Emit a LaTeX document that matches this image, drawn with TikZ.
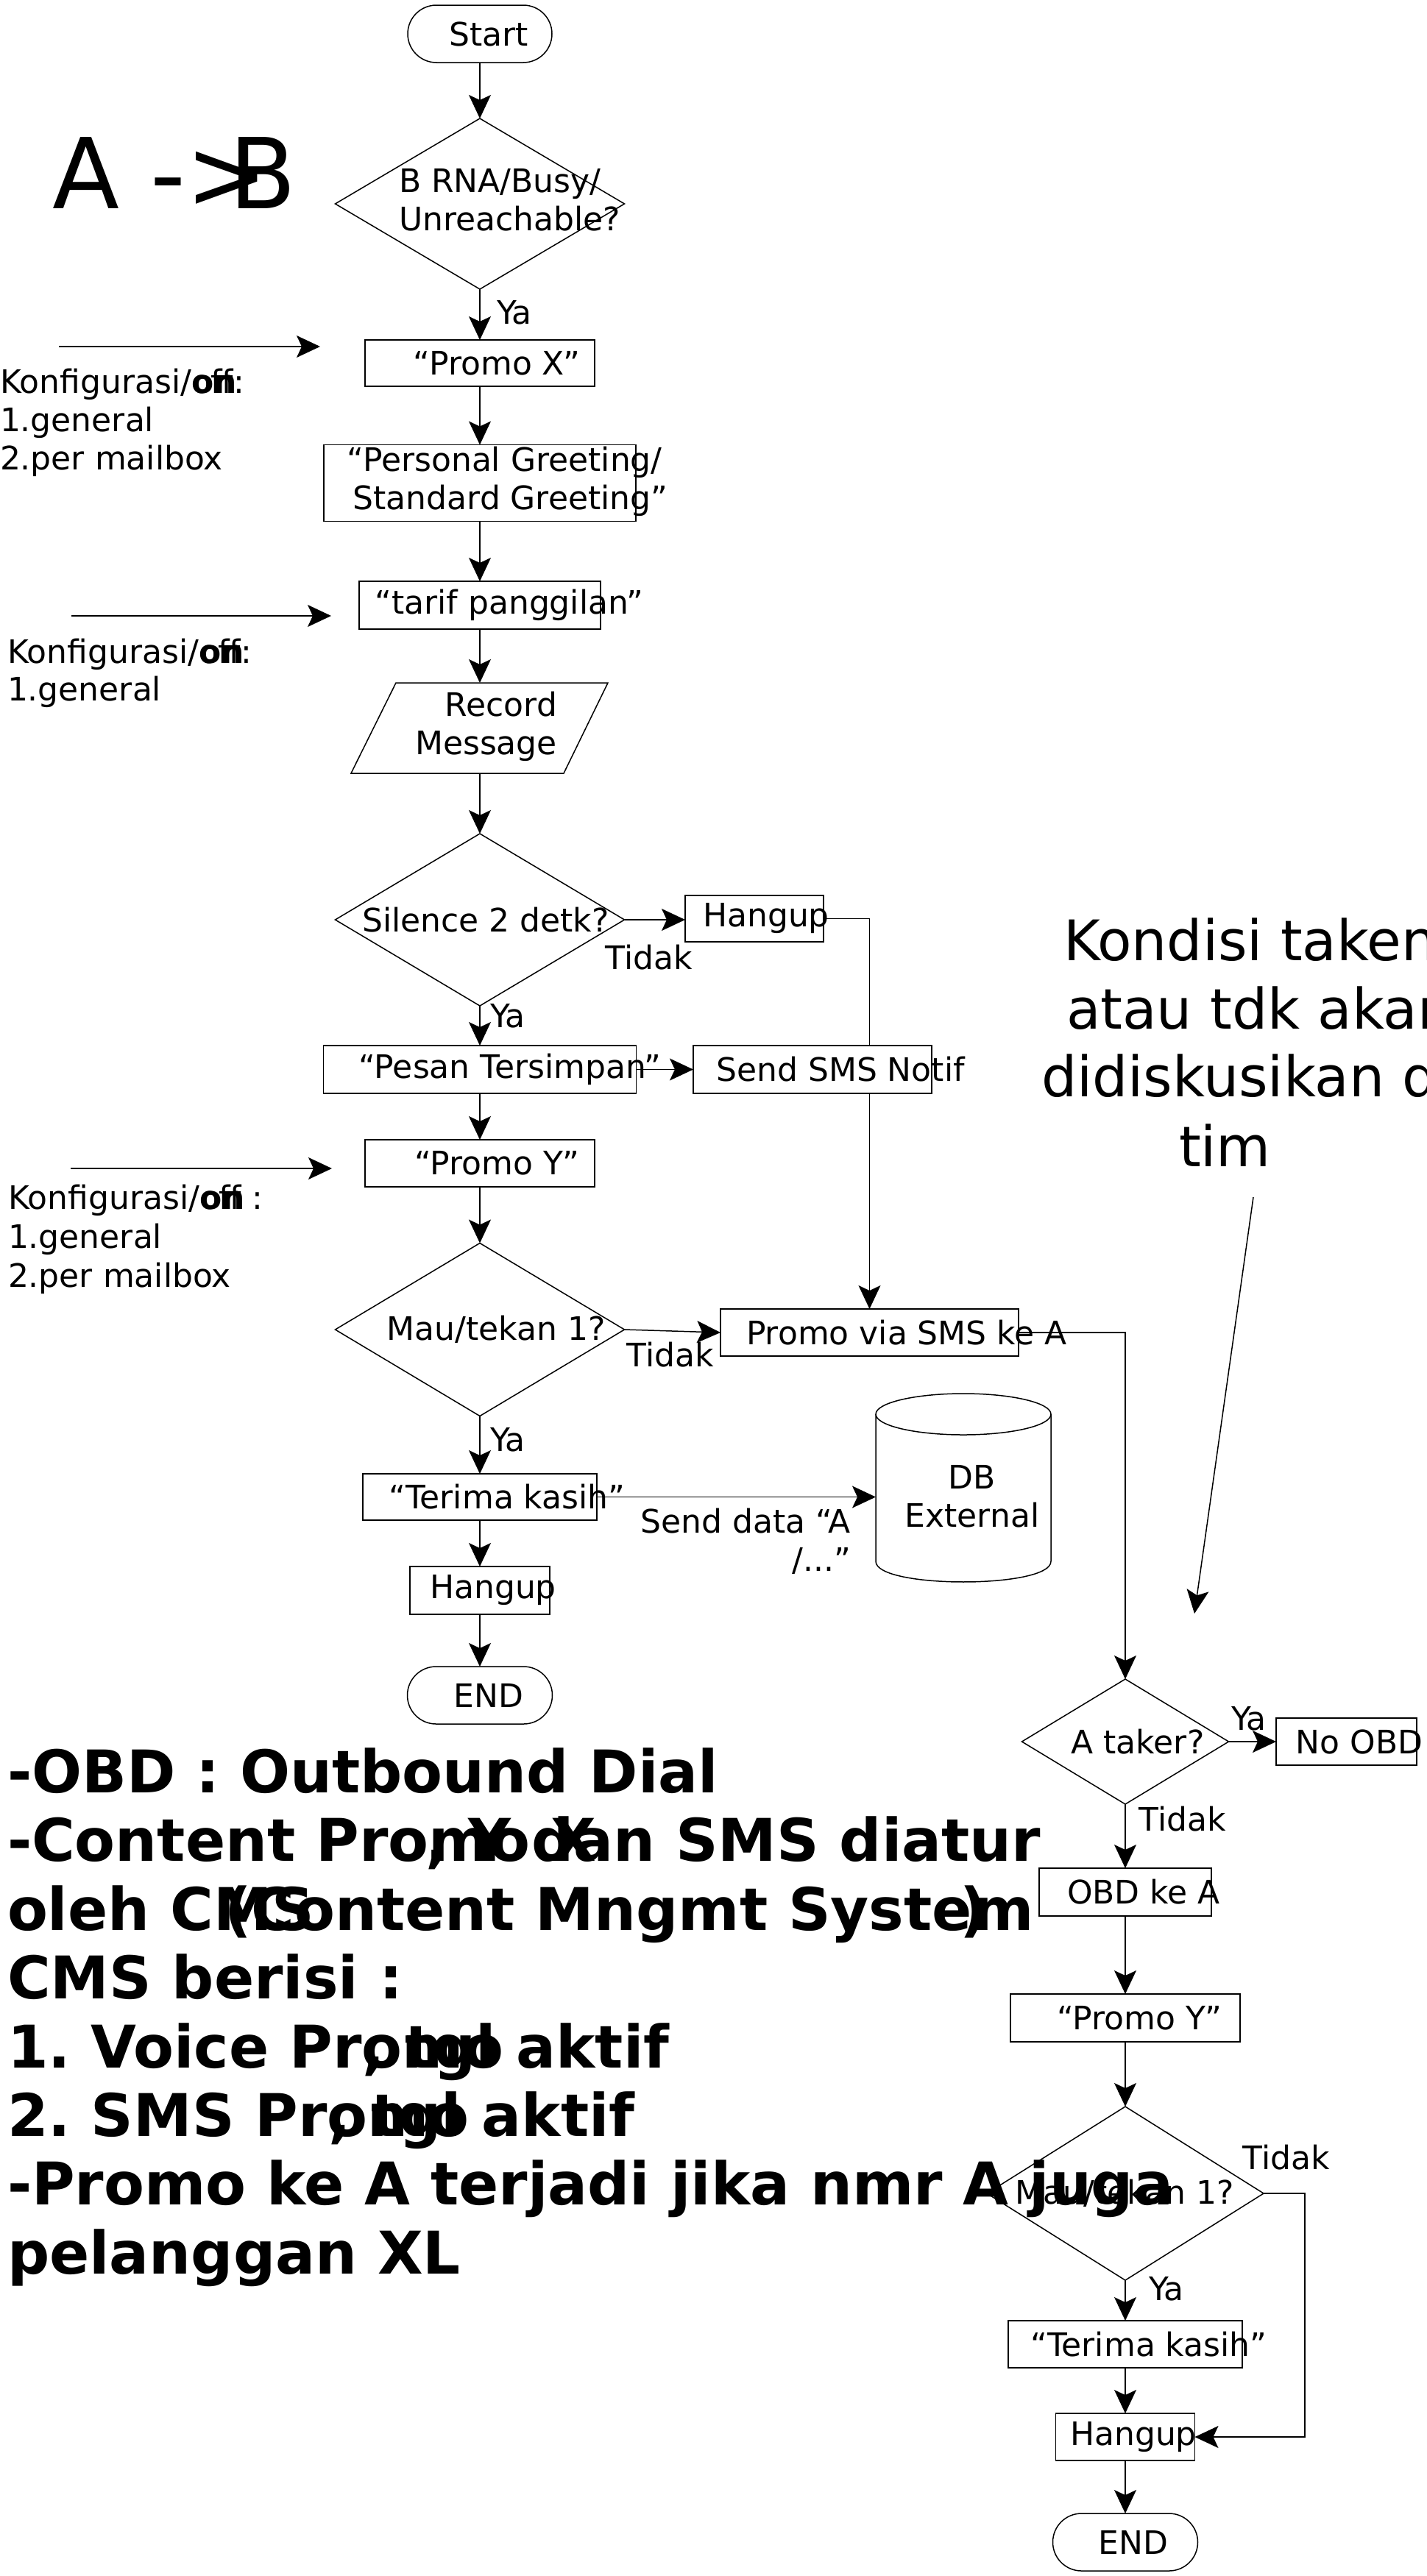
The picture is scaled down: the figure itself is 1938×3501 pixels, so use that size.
\documentclass[tikz,border=0pt]{standalone}
\usepackage{fontspec}
\setmainfont{DejaVu Sans}
\usetikzlibrary{arrows.meta,shapes.geometric}
\pgfdeclarelayer{bg}
\pgfsetlayers{bg,main}
% text shifted right by #1/2 pt and raised by #2 pt, without changing the node size
\newcommand\bt[3]{\makebox[0pt]{\hspace*{#1pt}\raisebox{#2pt}[\height][\depth]{#3}}}
\frenchspacing
\begin{document}
\begin{tikzpicture}[x=1pt,y=-1pt,font=\fontsize{44}{52}\selectfont,
  ln/.style={line width=1.5pt},
  arr/.style={ln,-{Stealth[length=32pt,width=30pt,inset=7pt]}},
  box/.style={draw,ln,fill=white,rectangle,inner sep=0pt,outer sep=0pt},
  term/.style={box,rounded corners=39pt},
  dec/.style={draw,ln,fill=white,diamond,inner sep=0pt,outer sep=0pt},
  lab/.style={inner sep=0pt,outer sep=0pt},
  txt/.style={inner sep=0pt,outer sep=0pt,anchor=base west},
  bnote/.style={txt,font=\fontsize{80}{93}\selectfont\bfseries},
  big/.style={txt,font=\fontsize{76}{93}\selectfont}]
\useasboundingbox (0,0) rectangle (1938,3501);

% ---------- main column ----------
\node[term,minimum width=196pt,minimum height=78pt] (start) at (652,46) {\bt{24}{0}{Start}};
\node[dec,minimum width=393pt,minimum height=232pt] (d1) at (652,277)
  {\bt{81}{0}{\begin{tabular}{@{}l@{}}B RNA/Busy/\\Unreachable?\end{tabular}}};
\node[box,minimum width=312pt,minimum height=63pt] (promoX) at (652,493.5) {\bt{46}{0}{“Promo X”}};
\node[box,minimum width=424pt,minimum height=103pt] (pg) at (652,656.5)
  {\bt{75}{0}{\begin{tabular}{@{}l@{}}“Personal Greeting/\\\hspace*{8pt}Standard Greeting”\end{tabular}}};
\node[box,minimum width=328pt,minimum height=65pt] (tarif) at (652,822.5) {\bt{80}{0}{“tarif panggilan”}};
\draw[ln] (538,928) -- (826,928) -- (766,1051) -- (477,1051) -- cycle;
\node[lab,minimum width=288pt,minimum height=123pt] (rec) at (652,989.5)
  {\bt{17}{0}{\begin{tabular}{@{}r@{}}Record\\Message\end{tabular}}};
\node[dec,minimum width=393pt,minimum height=234pt] (d2) at (652,1250) {\bt{16}{0}{Silence 2 detk?}};
\node[box,minimum width=188pt,minimum height=63pt] (hang1) at (1025,1248.5) {\bt{32}{0}{Hangup}};
\node[box,minimum width=425pt,minimum height=65pt] (pesan) at (652,1453.5) {\bt{82}{0}{“Pesan Tersimpan”}};
\node[box,minimum width=324pt,minimum height=65pt] (notif) at (1104,1453.5) {\bt{76}{0}{Send SMS Notif}};
\node[box,minimum width=312pt,minimum height=64pt] (promoY) at (652,1581) {\bt{46}{0}{“Promo Y”}};
\node[dec,minimum width=393pt,minimum height=235pt] (d3) at (652,1807) {\bt{44}{0}{Mau/tekan 1?}};
\node[box,minimum width=405pt,minimum height=64pt] (smsA) at (1181.5,1811) {\bt{101}{0}{Promo via SMS ke A}};
\node[box,minimum width=318pt,minimum height=63pt] (terima1) at (652,2034.5) {\bt{74}{0}{“Terima kasih”}};
\draw[ln] (1190,1922) -- (1190,2122) .. controls (1190,2159.3) and (1428,2159.3) .. (1428,2122) -- (1428,1922);
\draw[ln] (1309,1922) ellipse [x radius=119pt,y radius=28pt];
\node[lab,minimum width=238pt,minimum height=256pt] (db) at (1309,2021.5)
  {\bt{24}{-18}{\begin{tabular}{@{}c@{}}DB\\External\end{tabular}}};
\node[box,minimum width=190pt,minimum height=65pt] (hang2) at (652,2161.5) {\bt{36}{0}{Hangup}};
\node[term,minimum width=197pt,minimum height=78pt] (end1) at (652,2304) {\bt{24}{0}{END}};

% ---------- right column ----------
\node[dec,minimum width=281pt,minimum height=170pt] (d4) at (1529,2367) {\bt{34}{0}{A taker?}};
\node[box,minimum width=191pt,minimum height=64pt] (noobd) at (1829.5,2367) {\bt{35}{0}{No OBD}};
\node[box,minimum width=234pt,minimum height=65pt] (obd) at (1529,2571.5) {\bt{50}{0}{OBD ke A}};
\node[box,minimum width=312pt,minimum height=65pt] (promoY2) at (1529,2742.5) {\bt{38}{0}{“Promo Y”}};
\node[dec,minimum width=376pt,minimum height=236pt] (d5) at (1529,2981) {\bt{-2}{0}{Mau/tekan 1?}};
\node[box,minimum width=318pt,minimum height=64pt] (terima2) at (1529,3186) {\bt{64}{0}{“Terima kasih”}};
\node[box,minimum width=189pt,minimum height=64pt] (hang3) at (1529,3312) {\bt{22}{0}{Hangup}};
\node[term,minimum width=197pt,minimum height=78pt] (end2) at (1529,3455) {\bt{22}{0}{END}};

% ---------- connector labels ----------
\node[lab] (ya1) at (699,425) {Ya};
\node[lab] (td1) at (882,1301) {Tidak};
\node[lab] (ya2) at (690,1381) {Ya};
\node[lab] (td2) at (911,1841) {Tidak};
\node[lab] (ya3) at (690,1957) {Ya};
\node[lab] (ya4) at (1697,2336) {Ya};
\node[lab] (td3) at (1607,2472) {Tidak};
\node[lab] (td4) at (1748,2932) {Tidak};
\node[lab] (ya5) at (1585,3111) {Ya};
\node[lab,anchor=north east] (snd) at (1156,2047) {\begin{tabular}{@{}r@{}}Send data “A\\/...”\end{tabular}};

% ---------- side notes ----------
\node[txt,font=\fontsize{133}{160}\selectfont] (ab) at (71,283) {A ->\kern-52pt B};
\node[txt] (k1a) at (0,534) {Konfigurasi/\rlap{\textbf{on}}off:};
\node[txt] (k1b) at (0,586) {1.general};
\node[txt] (k1c) at (0,638) {2.per mailbox};
\node[txt] (k2a) at (10,901) {Konfigurasi/\rlap{\textbf{on}}off:};
\node[txt] (k2b) at (10,952) {1.general};
\node[txt] (k3a) at (11,1643) {Konfigurasi/\rlap{\textbf{on}}off :};
\node[txt] (k3b) at (11,1696) {1.general};
\node[txt] (k3c) at (11,1749) {2.per mailbox};

\node[big] (kd1) at (1445,1305) {Kondisi taken};
\node[big] (kd2) at (1449,1398) {atau tdk akan};
\node[big] (kd3) at (1415,1490) {didiskusikan dg};
\node[big] (kd4) at (1602,1585) {tim};

\node[bnote] (n1) at (10,2436) {-OBD : Outbound Dial};
\node[bnote] (n2) at (10,2529) {-Content Promo X\kern-232pt, Y dan SMS diatur};
\node[bnote] (n3) at (10,2623) {oleh CMS\kern-150pt\ (Content Mngmt System\kern-100pt)};
\node[bnote] (n4) at (10,2716) {CMS berisi :};
\node[bnote] (n5) at (10,2810) {1. Voice Promo\kern-192pt, tgl aktif};
\node[bnote] (n6) at (10,2903) {2. SMS Promo\kern-192pt, tgl aktif};
\node[bnote] (n7) at (10,2996) {-Promo ke A terjadi jika nmr A juga};
\node[bnote] (n8) at (10,3090) {pelanggan XL};

% ---------- connectors ----------
\coordinate (a1s) at (80,471);   \coordinate (a1e) at (435,471);
\coordinate (a2s) at (97,837);   \coordinate (a2e) at (450,837);
\coordinate (a3s) at (96,1588);  \coordinate (a3e) at (451,1588);
\coordinate (kds) at (1703,1627); \coordinate (kde) at (1623,2193);
\begin{pgfonlayer}{bg}
\draw[arr] (start.south) -- (d1.north);
\draw[arr] (d1.south) -- (promoX.north);
\draw[arr] (promoX.south) -- (pg.north);
\draw[arr] (pg.south) -- (tarif.north);
\draw[arr] (tarif.south) -- (rec.north);
\draw[arr] (rec.south) -- (d2.north);
\draw[arr] (d2.east) -- (d2.east -| hang1.west);
\draw[arr] (hang1.east) -| (smsA.north);
\draw[arr] (d2.south) -- (pesan.north);
\draw[arr] (pesan.east) -- (notif.west);
\draw[arr] (pesan.south) -- (promoY.north);
\draw[arr] (promoY.south) -- (d3.north);
\draw[arr] (d3.east) -- (smsA.west);
\draw[arr] (d3.south) -- (terima1.north);
\draw[arr] (terima1.east) -- (terima1.east -| db.west);
\draw[arr] (terima1.south) -- (hang2.north);
\draw[arr] (hang2.south) -- (end1.north);
\draw[arr] (smsA.east) -| (d4.north);
\draw[arr] (d4.east) -- (noobd.west);
\draw[arr] (d4.south) -- (obd.north);
\draw[arr] (obd.south) -- (promoY2.north);
\draw[arr] (promoY2.south) -- (d5.north);
\draw[arr] (d5.south) -- (terima2.north);
\draw[arr] (d5.east) -- ++(56,0) |- (hang3.east);
\draw[arr] (terima2.south) -- (hang3.north);
\draw[arr] (hang3.south) -- (end2.north);
\draw[arr] (a1s) -- (a1e);
\draw[arr] (a2s) -- (a2e);
\draw[arr] (a3s) -- (a3e);
\draw[arr] (kds) -- (kde);
\end{pgfonlayer}
\end{tikzpicture}
\end{document}
